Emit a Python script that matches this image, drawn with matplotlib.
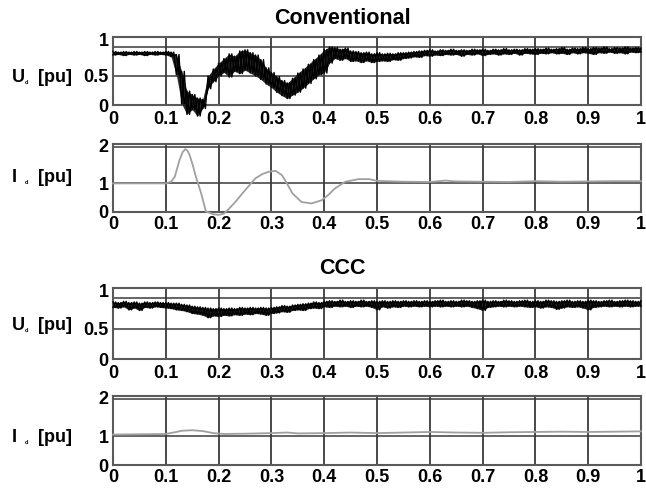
import matplotlib
matplotlib.use('Agg')
import matplotlib.pyplot as plt
from numpy import linspace

plt.rcParams['font.family'] = ['Liberation Sans', 'DejaVu Sans']
plt.rcParams['font.weight'] = 'bold'

W, H = 646, 488  # размер рисунка в пикселях

# время для напряжения, шаг 0.01 с
t_u = linspace(0, 1, 101)

# Ud, обычное управление: нижняя и верхняя граница шумовой полосы
ud_conv_lo = [0.86, 0.87, 0.85, 0.87, 0.86, 0.87, 0.85, 0.87, 0.86, 0.87,
              0.86, 0.83, 0.52, 0.02, -0.16, -0.08, -0.19, -0.06, 0.28, 0.40,
              0.50, 0.56, 0.48, 0.58, 0.54, 0.60, 0.55, 0.50, 0.44, 0.36,
              0.30, 0.22, 0.16, 0.11, 0.17, 0.22, 0.29, 0.37, 0.45, 0.52,
              0.55, 0.72, 0.80, 0.77, 0.80, 0.75, 0.76, 0.73, 0.76, 0.73,
              0.75, 0.76, 0.75, 0.78, 0.77, 0.80, 0.81, 0.83, 0.82, 0.85,
              0.84, 0.86, 0.85, 0.87, 0.86, 0.87, 0.84, 0.87, 0.86, 0.88,
              0.85, 0.87, 0.88, 0.86, 0.88, 0.87, 0.89, 0.86, 0.89, 0.88,
              0.87, 0.89, 0.88, 0.90, 0.88, 0.89, 0.87, 0.90, 0.88, 0.90,
              0.89, 0.87, 0.90, 0.89, 0.91, 0.89, 0.90, 0.88, 0.91, 0.90,
              0.91]
ud_conv_hi = [0.92, 0.91, 0.92, 0.91, 0.92, 0.91, 0.92, 0.91, 0.92, 0.91,
              0.92, 0.91, 0.87, 0.58, 0.24, 0.18, 0.12, 0.10, 0.50, 0.62,
              0.72, 0.80, 0.88, 0.84, 0.93, 0.95, 0.90, 0.86, 0.78, 0.64,
              0.56, 0.49, 0.42, 0.38, 0.46, 0.55, 0.62, 0.70, 0.78, 0.86,
              0.95, 1.00, 0.99, 0.96, 0.98, 0.93, 0.92, 0.90, 0.91, 0.88,
              0.90, 0.88, 0.89, 0.88, 0.90, 0.90, 0.91, 0.92, 0.93, 0.94,
              0.95, 0.93, 0.95, 0.94, 0.96, 0.94, 0.95, 0.94, 0.96, 0.95,
              0.96, 0.94, 0.96, 0.95, 0.97, 0.95, 0.96, 0.95, 0.97, 0.96,
              0.97, 0.96, 0.98, 0.96, 0.97, 0.99, 0.96, 0.98, 0.97, 0.99,
              0.97, 0.99, 0.98, 1.00, 0.97, 0.99, 0.98, 1.00, 0.98, 0.99,
              0.98]

# Ud, CCC
ud_ccc_lo = [0.85, 0.84, 0.86, 0.81, 0.84, 0.80, 0.85, 0.84, 0.86, 0.85,
             0.84, 0.83, 0.81, 0.80, 0.78, 0.75, 0.74, 0.72, 0.68, 0.71,
             0.70, 0.72, 0.71, 0.73, 0.72, 0.74, 0.73, 0.75, 0.74, 0.72,
             0.75, 0.76, 0.78, 0.77, 0.80, 0.81, 0.80, 0.83, 0.84, 0.83,
             0.86, 0.85, 0.87, 0.86, 0.87, 0.85, 0.87, 0.86, 0.87, 0.85,
             0.81, 0.86, 0.84, 0.86, 0.85, 0.87, 0.86, 0.87, 0.86, 0.87,
             0.86, 0.87, 0.86, 0.87, 0.86, 0.87, 0.86, 0.87, 0.85, 0.83,
             0.80, 0.85, 0.86, 0.87, 0.86, 0.87, 0.86, 0.87, 0.86, 0.85,
             0.86, 0.84, 0.86, 0.85, 0.82, 0.84, 0.86, 0.85, 0.86, 0.84,
             0.81, 0.85, 0.86, 0.87, 0.86, 0.87, 0.86, 0.87, 0.86, 0.87,
             0.87]
ud_ccc_hi = [0.94, 0.93, 0.95, 0.93, 0.94, 0.92, 0.94, 0.93, 0.94, 0.93,
             0.93, 0.92, 0.92, 0.90, 0.89, 0.87, 0.86, 0.85, 0.84, 0.83,
             0.84, 0.83, 0.84, 0.83, 0.85, 0.84, 0.85, 0.84, 0.85, 0.84,
             0.85, 0.86, 0.88, 0.87, 0.89, 0.90, 0.91, 0.92, 0.94, 0.93,
             0.95, 0.96, 0.95, 0.97, 0.95, 0.96, 0.95, 0.97, 0.95, 0.96,
             0.95, 0.96, 0.95, 0.96, 0.95, 0.96, 0.95, 0.96, 0.95, 0.96,
             0.95, 0.96, 0.97, 0.95, 0.96, 0.95, 0.97, 0.96, 0.95, 0.96,
             0.97, 0.95, 0.96, 0.95, 0.97, 0.96, 0.95, 0.96, 0.97, 0.95,
             0.96, 0.95, 0.97, 0.96, 0.95, 0.96, 0.97, 0.95, 0.96, 0.95,
             0.97, 0.96, 0.95, 0.96, 0.97, 0.95, 0.96, 0.97, 0.96, 0.95,
             0.96]

# Id, обычное управление
t_i_conv = [0, 0.05, 0.10, 0.11, 0.117, 0.126, 0.132, 0.137, 0.141, 0.145,
            0.151, 0.157, 0.167, 0.176, 0.19, 0.20, 0.21, 0.22, 0.233,
            0.245, 0.258, 0.27, 0.283, 0.295, 0.308, 0.32, 0.33, 0.34,
            0.357, 0.376, 0.395, 0.408, 0.42, 0.44, 0.465, 0.485, 0.50,
            0.55, 0.60, 0.63, 0.65, 0.70, 0.75, 0.80, 0.85, 0.90, 0.95, 1.0]
i_conv = [1.0, 1.0, 1.0, 1.06, 1.23, 1.82, 2.1, 2.2, 2.15, 2.0,
          1.65, 1.23, 0.65, 0.02, -0.08, -0.1, -0.06, 0.12, 0.38,
          0.65, 0.93, 1.18, 1.33, 1.41, 1.44, 1.29, 0.98, 0.65,
          0.35, 0.30, 0.41, 0.6, 0.82, 1.06, 1.15, 1.15, 1.09,
          1.06, 1.05, 1.1, 1.07, 1.06, 1.05, 1.08, 1.06, 1.07, 1.08, 1.08]

# Id, CCC
t_i_ccc = [0, 0.05, 0.10, 0.12, 0.13, 0.15, 0.17, 0.19, 0.21, 0.25, 0.30,
           0.33, 0.35, 0.40, 0.45, 0.50, 0.55, 0.60, 0.65, 0.70, 0.75,
           0.80, 0.85, 0.90, 0.95, 1.0]
i_ccc = [1.05, 1.06, 1.07, 1.14, 1.18, 1.2, 1.17, 1.1, 1.07, 1.08, 1.1,
         1.12, 1.09, 1.1, 1.12, 1.1, 1.12, 1.14, 1.12, 1.11, 1.13,
         1.14, 1.15, 1.14, 1.15, 1.16]

x_ticks = [i / 10 for i in range(11)]
x_labels = ['0', '0.1', '0.2', '0.3', '0.4', '0.5', '0.6', '0.7', '0.8', '0.9', '1']

GRID = '#3a3a3a'
FRAME = '#5a5a5a'
FS = 13


def make_axes(fig, top, bottom):
    """ Оси по пиксельным границам """
    left, right = 113, 641
    return fig.add_axes([left / W, 1 - bottom / H, (right - left) / W, (bottom - top) / H])


def style_axes(ax, ylim, yticks, ylabels, hlines, label_pad):
    ax.set_xlim(0, 1)
    ax.set_ylim(*ylim)
    ax.set_xticks(x_ticks, x_labels)
    ax.set_yticks(yticks, ylabels)
    ax.tick_params(length=0, labelsize=FS, pad=3)
    ax.tick_params(axis='x', pad=label_pad)
    for x in x_ticks[1:-1]:
        ax.axvline(x, color=GRID, lw=1.3, zorder=1)
    for y in hlines:
        ax.axhline(y, color=GRID, lw=1.1, zorder=1)
    for s in ax.spines.values():
        s.set_color(FRAME)
        s.set_linewidth(1.5)


def zigzag(lo, hi):
    """ Пила между нижней и верхней границей: минимумы в узлах, максимумы посередине """
    half = (t_u[1] - t_u[0]) / 2
    xs, ys = [], []
    for k in range(len(t_u) - 1):
        xs += [t_u[k], t_u[k] + half]
        ys += [lo[k], hi[k]]
    xs.append(t_u[-1])
    ys.append(lo[-1])
    return xs, ys


def draw_voltage(ax, lo, hi):
    ax.fill_between(t_u, lo, hi, color='#2a2a2a', lw=0, zorder=3, clip_on=False)
    xs, ys = zigzag(lo, hi)
    ax.plot(xs, ys, color='#000000', lw=1.0, zorder=3, clip_on=False)
    xs, ys = zigzag(hi, lo)
    ax.plot(xs, ys, color='#000000', lw=1.0, zorder=3, clip_on=False)
    style_axes(ax, (0, 1.17), [0, 0.5, 1.13], ['0', '0.5', '1'], [0.5, 1.0], 4)


def draw_current(ax, t, i):
    ax.plot(t, i, color='#a0a0a0', lw=1.3, zorder=3, clip_on=False)
    style_axes(ax, (0, 2.38), [0, 1, 2.33], ['0', '1', '2'], [1.0, 2.26], 3)


def ylabel(fig, name, y):
    fig.text(12 / W, 1 - y / H, name, fontsize=FS, va='center', ha='left')
    fig.text(25 / W, 1 - (y + 5) / H, 'd', fontsize=4, va='center', ha='left')
    fig.text(72 / W, 1 - y / H, '[pu]', fontsize=FS, va='center', ha='right')


fig = plt.figure(figsize=(W / 100, H / 100), dpi=100)

ax1 = make_axes(fig, 37, 105)
draw_voltage(ax1, ud_conv_lo, ud_conv_hi)
ax2 = make_axes(fig, 144, 212)
draw_current(ax2, t_i_conv, i_conv)
ax3 = make_axes(fig, 288, 359)
draw_voltage(ax3, ud_ccc_lo, ud_ccc_hi)
ax4 = make_axes(fig, 396, 465)
draw_current(ax4, t_i_ccc, i_ccc)

fig.text(342 / W, 1 - 18 / H, 'Conventional', fontsize=15.5, ha='center', va='center')
fig.text(342 / W, 1 - 269 / H, 'CCC', fontsize=15.5, ha='center', va='center')

ylabel(fig, 'U', 77)
ylabel(fig, 'I', 178)
ylabel(fig, 'U', 325)
ylabel(fig, 'I', 438)

fig.savefig('out.png', dpi=100)
